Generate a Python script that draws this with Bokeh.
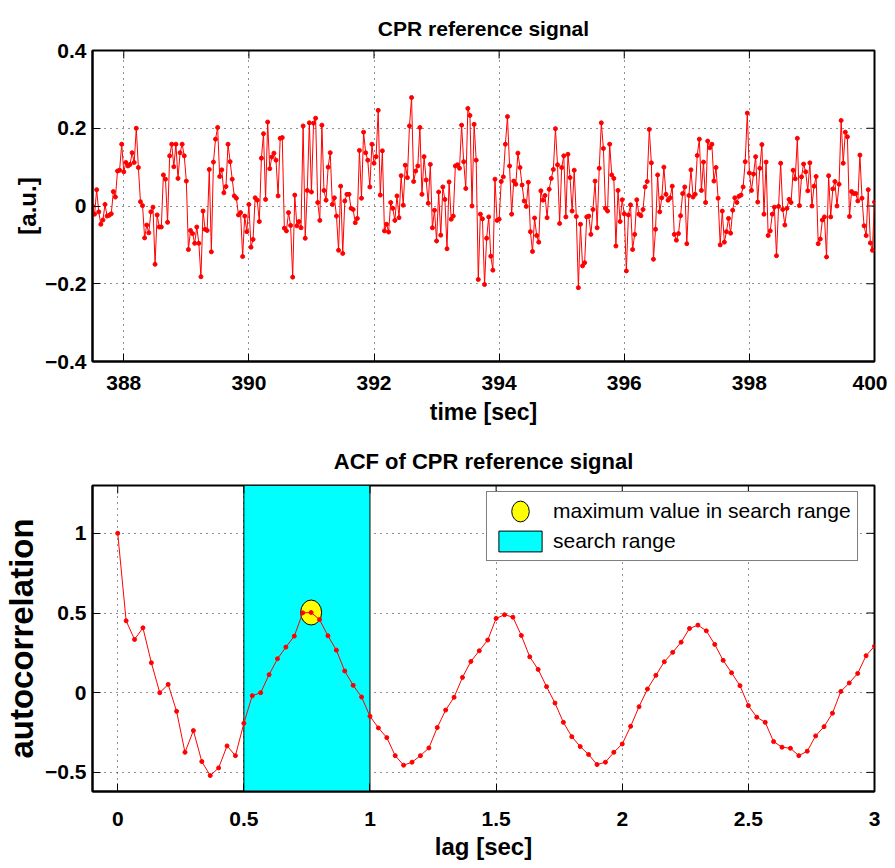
import numpy as np
from bokeh.plotting import figure
from bokeh.layouts import column
from bokeh.models import (Range1d, FixedTicker, CustomJSTickFormatter,
                          Legend, LegendItem)
from bokeh.embed import file_html
from bokeh.resources import INLINE

# ---------------- data ----------------
fs = 30.0                      # sampling rate [Hz]
t_start, t_end = 387.5, 400.0  # time window [sec]

signal = [
    0.000, -0.021, 0.042, -0.015, -0.047, -0.036, 0.004, -0.026, -0.024, -0.020,
    0.037, 0.023, 0.090, 0.092, 0.159, 0.088, 0.112, 0.103, 0.107, 0.137,
    0.112, 0.200, 0.099, 0.011, 0.001, -0.082, -0.049, -0.069, -0.015, -0.003,
    -0.150, -0.023, -0.054, -0.054, 0.080, 0.069, -0.042, 0.129, 0.159, 0.101,
    0.159, 0.071, 0.137, 0.159, 0.129, 0.064, -0.112, -0.063, -0.071, -0.096,
    -0.054, -0.096, -0.182, -0.013, -0.060, -0.063, 0.094, -0.118, 0.113, 0.172,
    0.202, 0.076, 0.093, 0.034, 0.050, 0.159, 0.114, 0.069, 0.026, 0.020,
    -0.023, -0.017, -0.130, -0.026, -0.066, 0.004, -0.106, -0.086, 0.021, 0.015,
    -0.040, 0.123, 0.186, 0.017, 0.216, 0.096, 0.126, 0.136, 0.118, 0.026,
    0.174, 0.176, -0.057, -0.064, -0.017,
    -0.050, -0.183, 0.028, -0.051, -0.040, -0.056, 0.206, -0.083, 0.040, 0.214,
    0.036, 0.213, 0.226, 0.009, -0.037, 0.208, 0.040, 0.015, 0.100, 0.137,
    0.004, 0.021, -0.026, -0.114, 0.051, -0.122, 0.013, 0.030, 0.030, -0.006,
    -0.009, -0.043, -0.032, 0.143, 0.020, 0.190, 0.137, 0.118, 0.049, 0.159,
    0.110, 0.127, 0.246, 0.028, 0.142, -0.064, -0.047, -0.067, 0.009, -0.006,
    -0.037, 0.026, -0.030, 0.078, 0.002, 0.105, 0.073, 0.206, 0.279, 0.063,
    0.090, 0.103, 0.202, 0.030, 0.127, 0.067, 0.007, 0.107, -0.056, -0.011,
    -0.090, 0.036, -0.075, 0.049, 0.017, -0.110, 0.062, -0.034, -0.026, 0.103,
    0.106, 0.097, 0.208, 0.114, 0.045, 0.251, 0.233, 0.000, 0.210, 0.118,
    -0.189,
    -0.021, -0.033, -0.202, -0.083, -0.028, -0.129, -0.165, 0.069, -0.037, -0.034,
    0.063, 0.075, 0.159, 0.230, 0.103, -0.021, 0.064, 0.056, 0.136, 0.099,
    0.054, 0.013, -0.001, 0.061, -0.066, -0.117, -0.031, -0.076, -0.093, 0.039,
    0.015, 0.027, -0.030, 0.043, 0.071, 0.094, 0.199, 0.106, -0.045, 0.099,
    0.129, -0.028, 0.133, 0.073, -0.013, 0.092, -0.027, -0.210, -0.047, -0.154,
    -0.146, -0.028, -0.026, -0.073, -0.009, 0.064, -0.056, 0.097, 0.214, 0.148,
    -0.006, -0.013, 0.159, 0.080, 0.071, -0.103, 0.040, -0.040, 0.016, -0.020,
    -0.167, -0.023, 0.003, -0.112, -0.073, 0.016, -0.021, -0.025, -0.009, 0.049,
    0.063, 0.197, 0.111, -0.137, -0.060, 0.080, -0.015, 0.021, 0.100, 0.030,
    0.015,
    0.021, 0.051, -0.073, -0.088, -0.071, -0.025, 0.032, 0.049, -0.097, 0.027,
    0.093, 0.023, 0.030, 0.130, 0.172, 0.040, 0.113, 0.009, 0.167, 0.150,
    0.159, 0.064, 0.099, 0.020, -0.100, -0.013, -0.093, -0.066, -0.032, -0.070,
    -0.011, 0.021, 0.009, 0.025, 0.028, 0.049, 0.114, 0.239, 0.085, 0.040,
    0.082, 0.127, 0.010, 0.097, 0.158, -0.021, 0.113, -0.076, -0.064, -0.021,
    -0.003, -0.128, -0.001, 0.110, -0.009, -0.049, -0.006, 0.017, 0.009, 0.092,
    0.070, 0.174, 0.001, 0.075, 0.108, 0.088, 0.039, 0.111, 0.000, 0.051,
    0.076, -0.097, -0.085, -0.036, -0.028, -0.131, 0.078, -0.028, 0.044, 0.063,
    0.000, 0.056, 0.220, 0.110, 0.190, 0.178, -0.027, 0.037, 0.032, 0.032,
    0.013, 0.131, 0.020, -0.051, -0.076, 0.042, -0.095, -0.114, 0.010,
]

acf = [
    1.000, 0.451, 0.334, 0.407, 0.188, 0.000, 0.052, -0.117, -0.374, -0.238,
    -0.432, -0.520, -0.472, -0.334, -0.395, -0.192, -0.019, 0.000, 0.113, 0.213,
    0.286, 0.355, 0.501, 0.503, 0.459, 0.357, 0.267, 0.136, 0.046, -0.027,
    -0.148, -0.221, -0.282, -0.395, -0.455, -0.436, -0.395, -0.347, -0.219, -0.109,
    -0.029, 0.096, 0.196, 0.263, 0.330, 0.466, 0.489, 0.474, 0.359, 0.225,
    0.146, 0.038, -0.065, -0.186, -0.276, -0.338, -0.388, -0.451, -0.436, -0.374,
    -0.322, -0.211, -0.088, 0.023, 0.109, 0.194, 0.253, 0.317, 0.403, 0.424,
    0.388, 0.303, 0.203, 0.125, 0.044, -0.081, -0.154, -0.186, -0.307, -0.342,
    -0.349, -0.395, -0.367, -0.271, -0.213, -0.129, 0.008, 0.061, 0.121, 0.232,
    0.292,
]

search_range = [0.5, 1.0]

sig_xlim = [387.5, 400.0]
sig_ylim = [-0.4, 0.4]
sig_xticks = [388, 390, 392, 394, 396, 398, 400]
sig_yticks = [-0.4, -0.2, 0, 0.2, 0.4]

acf_xlim = [-0.1, 3.0]
acf_ylim = [-0.62, 1.3]
acf_xticks = [0, 0.5, 1, 1.5, 2, 2.5, 3]
acf_yticks = [-0.5, 0, 0.5, 1]

title_top = "CPR reference signal"
title_bottom = "ACF of CPR reference signal"
xlabel_top = "time [sec]"
ylabel_top = "[a.u.]"
xlabel_bottom = "lag [sec]"
ylabel_bottom = "autocorrelation"
legend_max = "maximum value in search range"
legend_range = "search range"

# ---------------- derived ----------------
t = np.linspace(t_start, t_end, len(signal))
lags = np.arange(len(acf)) / fs
acf_arr = np.array(acf)
in_range = (lags >= search_range[0]) & (lags <= search_range[1])
idx_max = np.where(in_range)[0][np.argmax(acf_arr[in_range])]

FONT = "Liberation Sans"
FRAME_W = 782

fmt = CustomJSTickFormatter(code="""
const s = (Math.round(Math.abs(tick) * 1000) / 1000).toString();
return tick < 0 ? "\u2212" + s : s;
""")


def style(p, xlim, ylim, xticks, yticks, xlabel, ylabel, title_size, title_standoff,
          xlabel_size, ylabel_size, ylabel_standoff, xtick_standoff, xlabel_standoff):
    p.outline_line_color = "black"
    p.outline_line_width = 2
    p.background_fill_color = "white"
    p.border_fill_color = "white"
    p.xaxis.ticker = FixedTicker(ticks=xticks)
    p.yaxis.ticker = FixedTicker(ticks=yticks)
    for ax in (p.xaxis[0], p.yaxis[0]):
        ax.formatter = fmt
        ax.major_tick_in = 8
        ax.major_tick_out = 0
        ax.minor_tick_line_color = None
        ax.axis_line_color = "black"
        ax.axis_line_width = 2
        ax.major_tick_line_color = "black"
        ax.major_label_text_font = FONT
        ax.major_label_text_font_size = "21px"
        ax.major_label_text_font_style = "bold"
        ax.major_label_text_color = "black"
        ax.axis_label_text_color = "black"
        ax.axis_label_text_font = FONT
        ax.axis_label_text_font_style = "bold"
    p.xaxis.major_label_standoff = xtick_standoff
    p.yaxis.major_label_standoff = 6
    p.xaxis.axis_label = xlabel
    p.xaxis.axis_label_text_font_size = xlabel_size
    p.xaxis.axis_label_standoff = xlabel_standoff
    p.yaxis.axis_label = ylabel
    p.yaxis.axis_label_text_font_size = ylabel_size
    p.yaxis.axis_label_standoff = ylabel_standoff
    # inward ticks on the top and right edges of the box (clipped to the frame)
    p.scatter(x=xticks, y=[ylim[1]] * len(xticks), marker="dash", size=16,
              angle=np.pi / 2, line_color="black", line_width=1)
    p.scatter(x=[xlim[1]] * len(yticks), y=yticks, marker="dash", size=16,
              angle=0, line_color="black", line_width=1)
    for g in (p.xgrid, p.ygrid):
        g.grid_line_color = "#222222"
        g.grid_line_dash = "1 5"
        g.grid_line_width = 1
    p.xgrid.ticker = FixedTicker(ticks=xticks)
    p.ygrid.ticker = FixedTicker(ticks=yticks)
    p.title.align = "center"
    p.title.text_font = FONT
    p.title.text_font_size = title_size
    p.title.text_font_style = "bold"
    p.title.text_color = "black"
    p.title.standoff = title_standoff


# ---------------- top: signal ----------------
p1 = figure(frame_width=FRAME_W, frame_height=311, min_border_left=88, min_border_right=17,
            min_border_top=50, min_border_bottom=71,
            x_range=Range1d(*sig_xlim), y_range=Range1d(*sig_ylim),
            title=title_top, output_backend="svg", toolbar_location=None)
style(p1, sig_xlim, sig_ylim, sig_xticks, sig_yticks, xlabel_top, ylabel_top,
      "21px", 22, "23px", "24px", 1, 14, 6)
p1.line(t, signal, line_color="red", line_width=1)
p1.scatter(t, signal, size=4, fill_color="red", line_color="red")

# ---------------- bottom: ACF ----------------
p2 = figure(frame_width=FRAME_W, frame_height=306, min_border_left=88, min_border_right=17,
            min_border_top=53, min_border_bottom=74,
            x_range=Range1d(*acf_xlim), y_range=Range1d(*acf_ylim),
            title=title_bottom, output_backend="svg", toolbar_location=None)
rng = p2.quad(left=[search_range[0]], right=[search_range[1]],
              bottom=[acf_ylim[0]], top=[acf_ylim[1]],
              fill_color="#00FFFF", line_color="black", line_width=1)
style(p2, acf_xlim, acf_ylim, acf_xticks, acf_yticks, xlabel_bottom, ylabel_bottom,
      "22px", 24, "24px", "33px", 2, 20, 4)
ell = p2.ellipse(x=[lags[idx_max]], y=[acf_arr[idx_max]], width=21, height=25,
                 width_units="screen", height_units="screen",
                 fill_color="yellow", line_color="black", line_width=1)
p2.line(lags, acf, line_color="red", line_width=1)
p2.scatter(lags, acf, size=4, fill_color="red", line_color="red")

legend = Legend(items=[LegendItem(label=legend_max, renderers=[ell]),
                       LegendItem(label=legend_range, renderers=[rng])],
                location=(394, 230))
legend.label_text_font = FONT
legend.label_text_font_size = "21px"
legend.label_text_color = "black"
legend.glyph_width = 54
legend.glyph_height = 26
legend.padding = 6
legend.spacing = 4
legend.label_standoff = 6
legend.margin = 0
legend.border_line_color = "black"
legend.border_line_width = 1
legend.background_fill_alpha = 1.0
p2.add_layout(legend)

layout = column(p1, p2)
open("out.html", "w").write(file_html(layout, INLINE))
